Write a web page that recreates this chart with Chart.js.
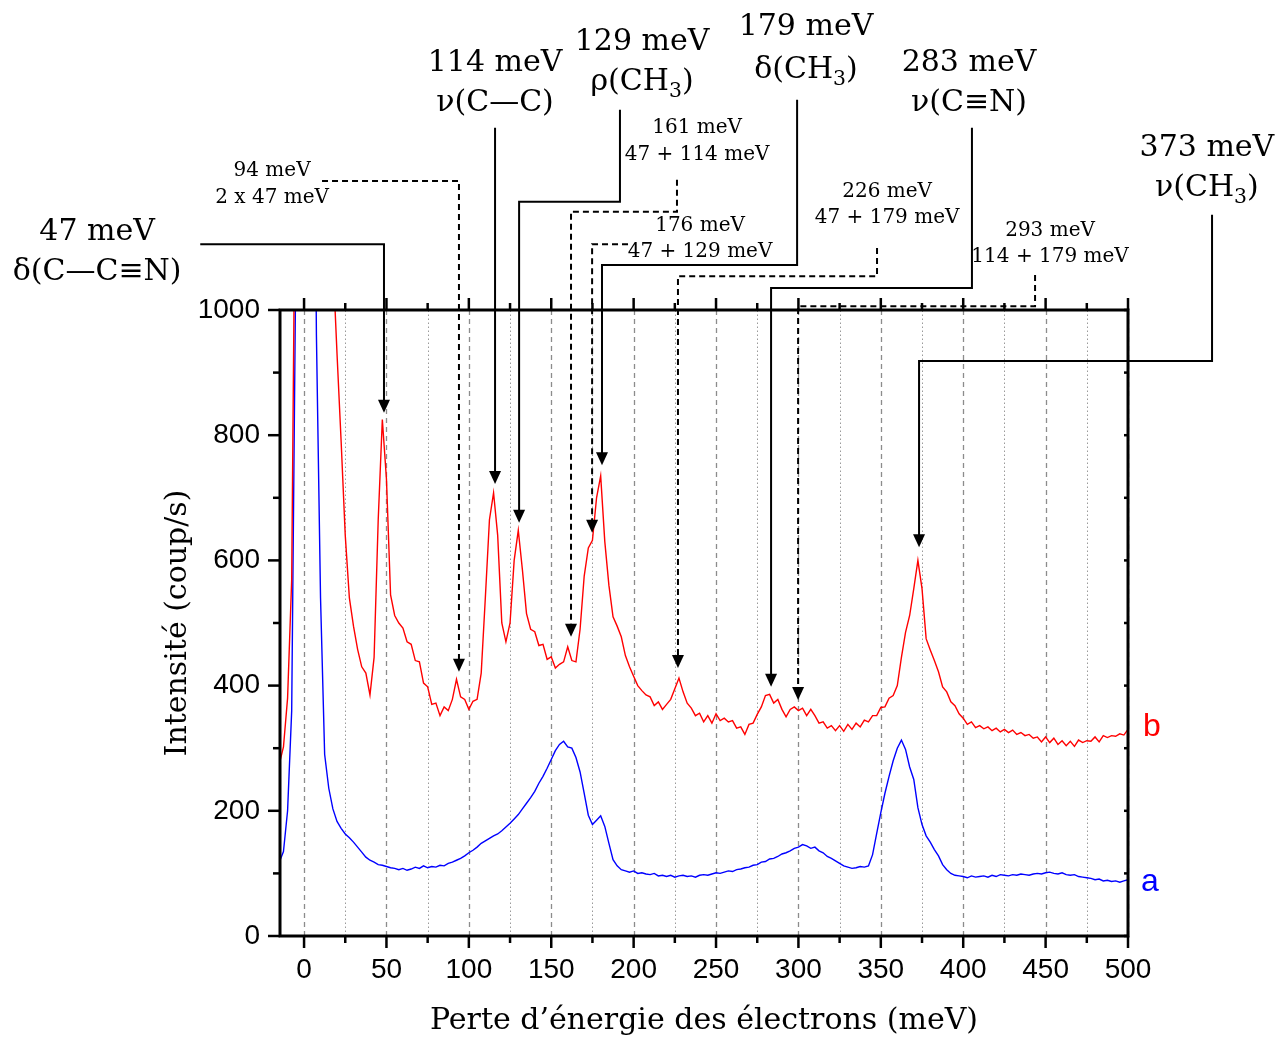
<!DOCTYPE html>
<html>
<head>
<meta charset="utf-8">
<script src="https://cdn.jsdelivr.net/npm/chart.js@4/dist/chart.umd.min.js"></script>
<style>
  body { margin: 0; background: #fff; }
  canvas { display: block; }
</style>
</head>
<body>
<canvas id="graph" width="1277" height="1039"></canvas>
<script>
// energy loss (meV), shared by both spectra
var energy = [
  -15, -12.5, -10, -7.5, -5, -2.5, 0, 2.5, 5, 7.5,
  10, 12.5, 15, 17.5, 20, 22.5, 25, 27.5, 30, 32.5,
  35, 37.5, 40, 42.5, 45, 47.5, 50, 52.5, 55, 57.5,
  60, 62.5, 65, 67.5, 70, 72.5, 75, 77.5, 80, 82.5,
  85, 87.5, 90, 92.5, 95, 97.5, 100, 102.5, 105, 107.5,
  110, 112.5, 115, 117.5, 120, 122.5, 125, 127.5, 130, 132.5,
  135, 137.5, 140, 142.5, 145, 147.5, 150, 152.5, 155, 157.5,
  160, 162.5, 165, 167.5, 170, 172.5, 175, 177.5, 180, 182.5,
  185, 187.5, 190, 192.5, 195, 197.5, 200, 202.5, 205, 207.5,
  210, 212.5, 215, 217.5, 220, 222.5, 225, 227.5, 230, 232.5,
  235, 237.5, 240, 242.5, 245, 247.5, 250, 252.5, 255, 257.5,
  260, 262.5, 265, 267.5, 270, 272.5, 275, 277.5, 280, 282.5,
  285, 287.5, 290, 292.5, 295, 297.5, 300, 302.5, 305, 307.5,
  310, 312.5, 315, 317.5, 320, 322.5, 325, 327.5, 330, 332.5,
  335, 337.5, 340, 342.5, 345, 347.5, 350, 352.5, 355, 357.5,
  360, 362.5, 365, 367.5, 370, 372.5, 375, 377.5, 380, 382.5,
  385, 387.5, 390, 392.5, 395, 397.5, 400, 402.5, 405, 407.5,
  410, 412.5, 415, 417.5, 420, 422.5, 425, 427.5, 430, 432.5,
  435, 437.5, 440, 442.5, 445, 447.5, 450, 452.5, 455, 457.5,
  460, 462.5, 465, 467.5, 470, 472.5, 475, 477.5, 480, 482.5,
  485, 487.5, 490, 492.5, 495, 497.5, 500
]

// spectrum a (blue)
var spectreA = [
  118, 135, 200, 360, 1080, 3000, 5000, 3500, 1800, 960,
  540, 290, 236, 203, 183, 172, 163, 157, 150, 142,
  134, 126, 121, 118, 114, 113, 111, 109, 108, 106,
  108, 105, 107, 110, 108, 112, 109, 111, 110, 113,
  112, 116, 118, 121, 124, 128, 133, 137, 142, 148,
  152, 156, 160, 163, 168, 174, 180, 187, 194, 203,
  212, 221, 231, 244, 255, 268, 282, 296, 306, 311,
  302, 300, 285, 262, 228, 193, 178, 185, 192, 175,
  148, 122, 112, 106, 104, 102, 104, 100, 101, 99,
  98, 100, 96, 97, 95, 97, 94, 96, 97, 95,
  96, 94, 97, 98, 97, 99, 101, 100, 102, 104,
  103, 106, 107, 109, 110, 113, 114, 118, 119, 123,
  124, 127, 131, 133, 136, 140, 142, 146, 144, 140,
  142, 136, 133, 127, 124, 120, 116, 112, 110, 108,
  109, 111, 110, 112, 130, 164, 197, 228, 255, 280,
  300, 313, 298, 270, 250, 205, 178, 160, 150, 138,
  128, 114, 106, 100, 97, 96, 95, 93, 96, 94,
  95, 96, 94, 97, 95, 98, 97, 96, 98, 97,
  99, 98, 97, 99, 100, 99, 101, 102, 100, 99,
  101, 98, 97, 98, 95, 94, 93, 92, 90, 91,
  88, 89, 87, 88, 86, 88, 90
]

// spectrum b (red)
var spectreB = [
  275, 302, 380, 570, 1350, 4000, 6000, 5000, 3500, 2500,
  1900, 1500, 1250, 1080, 930, 790, 640, 540, 495, 458,
  430, 420, 385, 445, 665, 825, 730, 545, 512, 500,
  492, 470, 466, 440, 438, 404, 398, 370, 372, 352,
  366, 360, 378, 410, 382, 378, 362, 375, 378, 420,
  540, 665, 708, 640, 500, 470, 500, 600, 648, 585,
  515, 490, 486, 464, 466, 442, 446, 428, 434, 438,
  462, 440, 438, 490, 575, 620, 632, 700, 735, 630,
  560, 510, 495, 478, 448, 430, 415, 400, 392, 385,
  382, 368, 374, 362, 370, 378, 395, 412, 390, 372,
  364, 352, 356, 342, 352, 340, 355, 344, 348, 342,
  344, 332, 334, 322, 338, 340, 354, 366, 384, 386,
  372, 378, 362, 350, 362, 366, 360, 364, 352, 362,
  352, 340, 342, 332, 336, 328, 336, 327, 338, 330,
  340, 334, 345, 342, 352, 352, 365, 366, 380, 384,
  400, 445, 485, 512, 555, 600, 555, 475, 457, 440,
  422, 398, 390, 374, 368, 355, 348, 338, 342, 333,
  336, 331, 334, 328, 332, 326, 330, 325, 329, 322,
  325, 320, 322, 316, 318, 310, 318, 309, 316, 306,
  312, 304, 311, 303, 313, 309, 312, 311, 318, 310,
  320, 317, 320, 319, 323, 321, 330
]

var xTicks = [0, 50, 100, 150, 200, 250, 300, 350, 400, 450, 500]
var xMinor = [25, 75, 125, 175, 225, 275, 325, 375, 425, 475]
var yTicks = [0, 200, 400, 600, 800, 1000]
var yMinor = [100, 300, 500, 700, 900]

// peak assignments: path in data units (last point = arrow tip), label centre
var notes = [
  { pts: [[-63, 1105], [48.5, 1105], [48.5, 836]], label: ['47 meV', 'δ(C—C≡N)'], at: [-125.6, 1125, 1061], big: true },
  { pts: [[10.9, 1206], [94, 1206], [94, 422]], label: ['94 meV', '2 x 47 meV'], at: [-19.4, 1222, 1179], dash: true },
  { pts: [[115.9, 1291], [115.9, 722]], label: ['114 meV', 'ν(C—C)'], at: [115.9, 1395, 1331], big: true },
  { pts: [[191.7, 1320], [191.7, 1173], [130.5, 1173], [130.5, 660]], label: ['129 meV', 'ρ(CH_3)'], at: [205.1, 1428, 1364], big: true },
  { pts: [[226.3, 1208], [226.3, 1157], [162, 1157], [162, 478]], label: ['161 meV', '47 + 114 meV'], at: [238.5, 1291, 1248], dash: true },
  { pts: [[196.6, 1105], [174.8, 1105], [174.8, 644]], label: ['176 meV', '47 + 129 meV'], at: [240.3, 1134, 1093], dash: true },
  { pts: [[299.2, 1336], [299.2, 1072], [180.8, 1072], [180.8, 752]], label: ['179 meV', 'δ(CH_3)'], at: [304.6, 1451, 1383], big: true },
  { pts: [[347.7, 1099], [347.7, 1054], [226.9, 1054], [226.9, 428]], label: ['226 meV', '47 + 179 meV'], at: [353.8, 1189, 1147], dash: true },
  { pts: [[405.3, 1291], [405.3, 1035], [283.4, 1035], [283.4, 398]], label: ['283 meV', 'ν(C≡N)'], at: [403.5, 1395, 1331], big: true },
  { pts: [[443.6, 1056], [443.6, 1006], [299.8, 1006], [299.8, 377]], label: ['293 meV', '114 + 179 meV'], at: [452.7, 1126, 1085], dash: true },
  { pts: [[551, 1152], [551, 918.5], [373.2, 918.5], [373.2, 621]], label: ['373 meV', 'ν(CH_3)'], at: [547.9, 1259, 1195], big: true }
]

var serif = '"DejaVu Serif", serif'
var sans = '"Liberation Sans", Arial, sans-serif'

function pairs(vals) {
  return energy.map(function (e, i) { return { x: e, y: vals[i] } })
}

// text with "_3" style subscripts, centred on (cx, cy)
function richText(ctx, str, cx, cy, size) {
  var parts = str.split(/_(\d)/)
  var w = 0
  parts.forEach(function (p, i) {
    ctx.font = (i % 2 ? size * 0.68 : size) + 'px ' + serif
    w += ctx.measureText(p).width
  })
  var x0 = cx - w / 2
  ctx.textAlign = 'left'
  ctx.textBaseline = 'middle'
  parts.forEach(function (p, i) {
    ctx.font = (i % 2 ? size * 0.68 : size) + 'px ' + serif
    ctx.fillText(p, x0, i % 2 ? cy + size * 0.32 : cy)
    x0 += ctx.measureText(p).width
  })
}

var gridPlugin = {
  id: 'grille',
  beforeDatasetsDraw: function (chart) {
    var ctx = chart.ctx, a = chart.chartArea, x = chart.scales.x
    ctx.save()
    ctx.lineWidth = 1.3
    ctx.strokeStyle = '#8c8c8c'
    ctx.setLineDash([5, 4])
    xTicks.forEach(function (v) {
      var px = Math.round(x.getPixelForValue(v)) + 0.5
      ctx.beginPath(); ctx.moveTo(px, a.bottom); ctx.lineTo(px, a.top); ctx.stroke()
    })
    ctx.lineWidth = 1
    ctx.strokeStyle = '#9a9a9a'
    ctx.setLineDash([1.5, 2.5])
    xMinor.forEach(function (v) {
      var px = Math.round(x.getPixelForValue(v)) + 0.5
      ctx.beginPath(); ctx.moveTo(px, a.bottom); ctx.lineTo(px, a.top); ctx.stroke()
    })
    ctx.restore()
  }
}

var framePlugin = {
  id: 'cadre',
  afterDatasetsDraw: function (chart) {
    var ctx = chart.ctx, a = chart.chartArea, x = chart.scales.x, y = chart.scales.y
    ctx.save()
    ctx.strokeStyle = '#000'
    ctx.lineWidth = 3
    ctx.strokeRect(a.left, a.top, a.right - a.left, a.bottom - a.top)

    ctx.lineWidth = 2.5
    function tick(x1, y1, x2, y2) { ctx.beginPath(); ctx.moveTo(x1, y1); ctx.lineTo(x2, y2); ctx.stroke() }
    xTicks.forEach(function (v) {
      var px = x.getPixelForValue(v)
      tick(px, a.bottom, px, a.bottom + 12)
      tick(px, a.top, px, a.top - 12)
    })
    xMinor.forEach(function (v) {
      var px = x.getPixelForValue(v)
      tick(px, a.bottom, px, a.bottom + 7)
      tick(px, a.top, px, a.top - 7)
    })
    yTicks.forEach(function (v) {
      var py = y.getPixelForValue(v)
      tick(a.left, py, a.left - 12, py)
      tick(a.right, py, a.right - 4, py)
    })
    yMinor.forEach(function (v) {
      var py = y.getPixelForValue(v)
      tick(a.left, py, a.left - 7, py)
      tick(a.right, py, a.right - 4, py)
    })

    // assignments
    ctx.fillStyle = '#000'
    notes.forEach(function (n) {
      var p = n.pts.map(function (q) { return [x.getPixelForValue(q[0]), y.getPixelForValue(q[1])] })
      var tip = p[p.length - 1]
      ctx.lineWidth = 2
      ctx.setLineDash(n.dash ? [6, 4] : [])
      ctx.beginPath()
      ctx.moveTo(p[0][0], p[0][1])
      for (var i = 1; i < p.length - 1; i++) ctx.lineTo(p[i][0], p[i][1])
      ctx.lineTo(tip[0], tip[1] - 11)
      ctx.stroke()
      ctx.setLineDash([])
      ctx.beginPath()
      ctx.moveTo(tip[0] - 6, tip[1] - 13)
      ctx.lineTo(tip[0] + 6, tip[1] - 13)
      ctx.lineTo(tip[0], tip[1])
      ctx.closePath()
      ctx.fill()

      var size = n.big ? 30 : 20
      var cx = x.getPixelForValue(n.at[0])
      richText(ctx, n.label[0], cx, y.getPixelForValue(n.at[1]), size)
      richText(ctx, n.label[1], cx, y.getPixelForValue(n.at[2]), size)
    })

    // series names
    ctx.font = '32px ' + sans
    ctx.textAlign = 'left'
    ctx.textBaseline = 'middle'
    ctx.fillStyle = '#ff0000'
    ctx.fillText('b', a.right + 15, y.getPixelForValue(spectreB[spectreB.length - 1]) - 2)
    ctx.fillStyle = '#0000ff'
    ctx.fillText('a', a.right + 13, y.getPixelForValue(spectreA[spectreA.length - 1]) + 3)
    ctx.restore()
  }
}

var ctx = document.getElementById('graph').getContext('2d')

var myChart = new Chart(ctx, {
  type: 'line',
  data: {
    datasets: [{
      label: 'b',
      data: pairs(spectreB),
      borderColor: '#ff0000',
      borderWidth: 1.4,
      pointRadius: 0,
      tension: 0
    }, {
      label: 'a',
      data: pairs(spectreA),
      borderColor: '#0000ff',
      borderWidth: 1.4,
      pointRadius: 0,
      tension: 0
    }]
  },
  options: {
    responsive: false,
    devicePixelRatio: 1,
    animation: false,
    events: [],
    layout: {
      padding: { top: 310, right: 149, left: 0, bottom: 0 }
    },
    plugins: {
      legend: { display: false },
      tooltip: { enabled: false }
    },
    scales: {
      x: {
        type: 'linear',
        min: -14.6,
        max: 500,
        afterBuildTicks: function (s) { s.ticks = xTicks.map(function (v) { return { value: v } }) },
        afterFit: function (s) { s.height = 103 },
        grid: { display: false, drawTicks: false },
        border: { display: false },
        ticks: {
          color: '#000',
          font: { family: sans, size: 28 },
          padding: 17,
          maxRotation: 0,
          autoSkip: false,
          callback: function (v) { return String(v) }
        },
        title: {
          display: true,
          text: 'Perte d’énergie des électrons (meV)',
          color: '#000',
          font: { family: serif, size: 30 },
          padding: { top: 0, bottom: 0 }
        }
      },
      y: {
        type: 'linear',
        min: 0,
        max: 1000,
        afterBuildTicks: function (s) { s.ticks = yTicks.map(function (v) { return { value: v } }) },
        afterFit: function (s) { s.width = 280 },
        grid: { display: false, drawTicks: false },
        border: { display: false },
        ticks: {
          color: '#000',
          font: { family: sans, size: 28 },
          padding: 20,
          callback: function (v) { return String(v) }
        },
        title: {
          display: true,
          text: 'Intensité (coup/s)',
          color: '#000',
          font: { family: serif, size: 30 },
          padding: { top: 160, bottom: 0 }
        }
      }
    }
  },
  plugins: [gridPlugin, framePlugin]
})
</script>
</body>
</html>
